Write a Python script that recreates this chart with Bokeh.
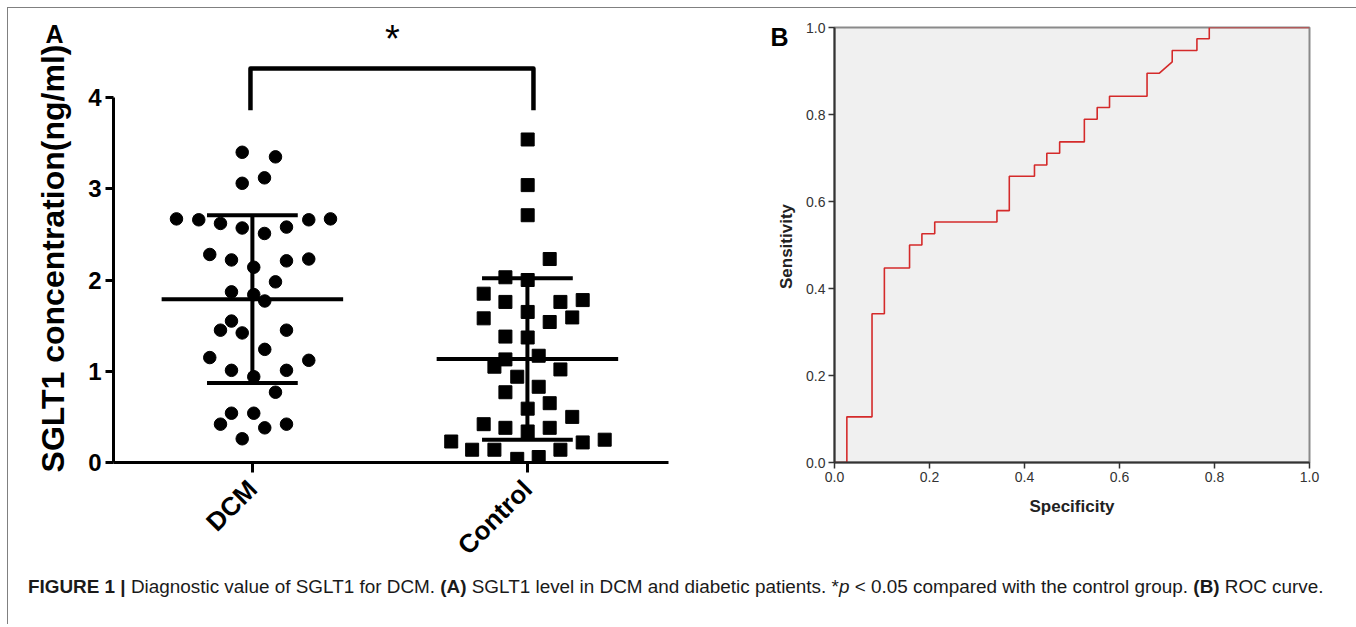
import math
from bokeh.plotting import figure
from bokeh.models import ColumnDataSource, FixedTicker, Div, Range1d
from bokeh.layouts import column, row
from bokeh.core.properties import value
from bokeh.embed import file_html
from bokeh.resources import INLINE

# ---------------- data: panel A ----------------
groups = ["DCM", "Control"]
dcm_values = [3.40, 3.35, 3.06, 3.12, 2.67, 2.66, 2.62, 2.57, 2.51, 2.58, 2.66, 2.67,
              2.28, 2.22, 2.14, 2.21, 2.23, 1.98, 1.87, 1.84, 1.77, 1.55, 1.45, 1.42,
              1.45, 1.24, 1.15, 1.01, 1.01, 1.12, 0.94, 0.77, 0.54, 0.54, 0.42, 0.38,
              0.42, 0.26]
dcm_jitter = [-0.037, 0.084, -0.037, 0.044, -0.276, -0.195, -0.116, -0.037, 0.044, 0.124,
              0.205, 0.284, -0.155, -0.076, 0.005, 0.124, 0.205, 0.084, -0.076, 0.005,
              0.045, -0.076, -0.116, -0.037, 0.124, 0.045, -0.155, -0.076, 0.124, 0.205,
              0.005, 0.084, -0.076, 0.005, -0.116, 0.045, 0.124, -0.037]
ctrl_values = [3.54, 3.04, 2.71, 2.23, 2.03, 2.00, 1.85, 1.76, 1.65, 1.76, 1.78, 1.58,
               1.54, 1.59, 1.38, 1.37, 1.17, 1.13, 1.05, 1.02, 0.94, 0.83, 0.77, 0.65,
               0.59, 0.50, 0.42, 0.38, 0.34, 0.38, 0.23, 0.14, 0.14, 0.04, 0.06, 0.14,
               0.22, 0.25]
ctrl_jitter = [0.001, 0.001, 0.001, 0.081, -0.080, 0.001, -0.159, -0.080, 0.001, 0.120,
               0.201, -0.159, 0.081, 0.163, -0.080, 0.001, 0.041, -0.080, -0.120, 0.120,
               -0.037, 0.041, -0.080, 0.081, 0.001, 0.163, -0.159, -0.080, 0.001, 0.081,
               -0.277, -0.201, -0.120, -0.037, 0.041, 0.120, 0.201, 0.281]
group_means = [1.79, 1.135]
group_sds = [0.92, 0.885]
y_ticks_a = [0, 1, 2, 3, 4]

# ---------------- data: panel B (ROC) ----------------
roc_x = [0.0, 0.026, 0.026, 0.079, 0.079, 0.105, 0.105, 0.158, 0.158, 0.184, 0.184,
         0.211, 0.211, 0.342, 0.342, 0.368, 0.368, 0.421, 0.421, 0.447, 0.447, 0.474,
         0.474, 0.526, 0.526, 0.553, 0.553, 0.579, 0.579, 0.658, 0.658, 0.684, 0.711,
         0.711, 0.763, 0.763, 0.789, 0.789, 1.0]
roc_y = [0.0, 0.0, 0.105, 0.105, 0.342, 0.342, 0.447, 0.447, 0.500, 0.500, 0.526,
         0.526, 0.553, 0.553, 0.579, 0.579, 0.658, 0.658, 0.684, 0.684, 0.711, 0.711,
         0.737, 0.737, 0.789, 0.789, 0.816, 0.816, 0.842, 0.842, 0.895, 0.895, 0.921,
         0.947, 0.947, 0.974, 0.974, 1.0, 1.0]
roc_ticks = [0.0, 0.2, 0.4, 0.6, 0.8, 1.0]

FONT = "Liberation Sans"
ROW_H = 555


def text_strip(width):
    """A frame-only figure (pixel coordinates, y downward) for panel letters / titles."""
    f = figure(width=width, height=ROW_H, output_backend="svg", toolbar_location=None,
               title=None, x_axis_type=None, y_axis_type=None, frame_align=False,
               x_range=Range1d(0, width), y_range=Range1d(ROW_H, 0),
               min_border=0, min_border_left=0, min_border_right=0,
               min_border_top=0, min_border_bottom=0)
    f.outline_line_color = None
    f.grid.visible = False
    f.background_fill_color = "white"
    f.border_fill_color = "white"
    return f


# ================= Panel A =================
pA_left = text_strip(76)
pA_left.text(x=[46], y=[25], text=["A"], text_font=value(FONT), text_font_size="25px",
             text_font_style="bold", text_align="center", text_baseline="middle",
             text_color="black")
pA_left.text(x=[44], y=[250], text=["SGLT1 concentration(ng/ml)"], text_font=value(FONT),
             text_font_size="32px", text_font_style="bold", text_align="center",
             text_baseline="middle", angle=math.pi / 2, text_color="black")

pA = figure(frame_width=555, frame_height=446, output_backend="svg",
            toolbar_location=None, title=None, frame_align=False,
            x_range=Range1d(-0.505, 1.513), y_range=Range1d(0, 4.888),
            min_border_left=29, min_border_right=80, min_border_top=8,
            min_border_bottom=101)
pA.outline_line_color = None
pA.grid.visible = False
pA.background_fill_color = "white"
pA.border_fill_color = "white"

srcD = ColumnDataSource(dict(x=[0 + j for j in dcm_jitter], y=dcm_values))
srcC = ColumnDataSource(dict(x=[1 + j for j in ctrl_jitter], y=ctrl_values))
pA.scatter("x", "y", source=srcD, marker="circle", size=12.5, fill_color="black",
           line_color="black")
pA.scatter("x", "y", source=srcC, marker="square", size=13, fill_color="black",
           line_color="black")

# mean +- SD
for gi in range(len(groups)):
    m, s = group_means[gi], group_sds[gi]
    pA.segment(x0=[gi - 0.33], y0=[m], x1=[gi + 0.33], y1=[m], line_width=4,
               line_color="black")
    pA.segment(x0=[gi], y0=[m - s], x1=[gi], y1=[m + s], line_width=4, line_color="black")
    pA.segment(x0=[gi - 0.165, gi - 0.165], y0=[m - s, m + s],
               x1=[gi + 0.165, gi + 0.165], y1=[m - s, m + s], line_width=4,
               line_color="black")

# significance bracket
pA.line(x=[-0.007, -0.007, 1.022, 1.022], y=[3.86, 4.318, 4.318, 3.86], line_width=4.5,
        line_color="black", line_join="round")
pA.text(x=[0.509], y=[4.64], text=["*"], text_font=value(FONT), text_font_size="38px",
        text_align="center", text_baseline="middle", text_color="black")

ya = pA.yaxis[0]
ya.ticker = FixedTicker(ticks=y_ticks_a)
ya.bounds = (0, 4)
ya.axis_line_width = 3
ya.major_tick_line_width = 3
ya.major_tick_out = 8
ya.major_tick_in = 0
ya.minor_tick_line_color = None
ya.major_label_text_font = FONT
ya.major_label_text_font_size = "24px"
ya.major_label_text_font_style = "bold"
ya.major_label_text_color = "black"
ya.major_label_standoff = 4

xa = pA.xaxis[0]
xa.ticker = FixedTicker(ticks=[0, 1])
xa.major_label_overrides = {0: groups[0], 1: groups[1]}
xa.axis_line_width = 3
xa.major_tick_line_width = 3
xa.major_tick_out = 10
xa.major_tick_in = 0
xa.minor_tick_line_color = None
xa.major_label_orientation = math.pi / 4
xa.major_label_text_font = FONT
xa.major_label_text_font_size = "26px"
xa.major_label_text_font_style = "bold"
xa.major_label_text_color = "black"
xa.major_label_standoff = 12

# ================= Panel B =================
pB_left = text_strip(52)
pB_left.text(x=[31], y=[28], text=["B"], text_font=value(FONT), text_font_size="25px",
             text_font_style="bold", text_align="center", text_baseline="middle",
             text_color="black")
pB_left.text(x=[38], y=[238], text=["Sensitivity"], text_font=value(FONT),
             text_font_size="17px", text_font_style="bold", text_align="center",
             text_baseline="middle", angle=math.pi / 2, text_color="#222222")

pB = figure(frame_width=475, frame_height=435, output_backend="svg",
            toolbar_location=None, title=None, frame_align=False,
            x_range=Range1d(0, 1), y_range=Range1d(0, 1),
            min_border_left=34, min_border_right=39, min_border_top=19,
            min_border_bottom=101)
pB.grid.visible = False
pB.background_fill_color = "#f0f0f0"
pB.border_fill_color = "white"
pB.outline_line_color = "#8a8a8a"
pB.outline_line_width = 2
pB.line(roc_x, roc_y, line_color="#d42a2a", line_width=1.6)

for ax in (pB.xaxis[0], pB.yaxis[0]):
    ax.ticker = FixedTicker(ticks=roc_ticks)
    ax.major_label_overrides = {t: f"{t:.1f}" for t in roc_ticks}
    ax.axis_line_width = 2
    ax.axis_line_color = "#333333"
    ax.major_tick_line_color = "#333333"
    ax.major_tick_line_width = 1.5
    ax.major_tick_out = 6
    ax.major_tick_in = 0
    ax.minor_tick_line_color = None
    ax.major_label_text_font = FONT
    ax.major_label_text_font_size = "14px"
    ax.major_label_text_color = "#333333"
    ax.major_label_standoff = 3
    ax.axis_label_text_font = FONT
    ax.axis_label_text_font_size = "17px"
    ax.axis_label_text_font_style = "bold"
    ax.axis_label_text_color = "#222222"
    ax.axis_label_standoff = 12
pB.xaxis[0].axis_label = "Specificity"

# ================= Caption =================
caption = Div(
    text=('<div style="font-family:\'Liberation Sans\',sans-serif;'
          'font-size:18.9px;color:#1a1a1a;white-space:nowrap;padding-left:15px;'
          'padding-top:0px;margin-top:-6px;">'
          '<b>FIGURE 1 |</b> Diagnostic value of SGLT1 for DCM. <b>(A)</b> SGLT1 level in DCM '
          'and diabetic patients. *<i>p</i> &lt; 0.05 compared with the control group. '
          '<b>(B)</b> ROC curve.</div>'),
    width=1340, height=40)

layout = column(row(pA_left, pA, pB_left, pB), caption,
                styles={"margin-left": "7px", "margin-top": "7px",
                        "border-top": "1px solid #808080",
                        "border-left": "1px solid #808080",
                        "border-right": "1px solid #808080"})

open("out.html", "w").write(file_html(layout, INLINE))
